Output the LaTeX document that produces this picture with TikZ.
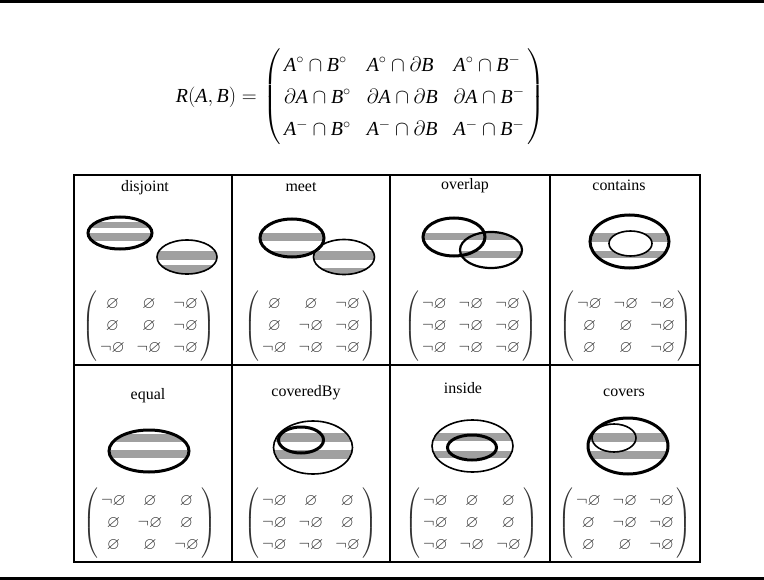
\documentclass[tikz,border=0pt]{standalone}
\usepackage{fontspec}
\usepackage{amssymb}
\setmainfont{Liberation Serif}
\usetikzlibrary{positioning}
\definecolor{bandgray}{HTML}{A0A0A0}
\definecolor{entrygrey}{HTML}{333333}

\newcommand{\sA}{\mathit{A}}
\newcommand{\sB}{\mathit{B}}
\newcommand{\eset}{\varnothing}
\newcommand{\neset}{\neg\varnothing}
% 3x3 intersection matrix, one argument per row
\newcommand{\imat}[3]{$\left(\begin{array}{@{\,}c@{\hspace{12pt}}c@{\hspace{12pt}}c@{\,}}#1\\#2\\#3\end{array}\right)$}
% grey bands clipped to an ellipse: cx, cy, rx, ry, list of y1/y2
\newcommand{\bandell}[5]{%
  \begin{scope}
    \clip (#1,#2) ellipse [x radius=#3, y radius=#4];
    \foreach \ya/\yb in {#5}
      \fill[bandgray] (#1-#3,\ya) rectangle (#1+#3,\yb);
  \end{scope}}

\begin{document}
\begin{tikzpicture}[x=1bp, y=-1bp,
    every node/.style={inner sep=0pt},
    ttl/.style={font=\fontsize{16}{18}\selectfont, anchor=base},
    mtx/.style={font=\fontsize{17}{20}\selectfont\def\arraystretch{1.12}, text=entrygrey},
    frm/.style={font=\fontsize{20}{24}\selectfont\def\arraystretch{1.35}},
    ringA/.style={line width=3bp},
    ringB/.style={line width=1.6bp},
    tab/.style={line width=1.8bp},
    hrule/.style={line width=3bp}
  ]
  \useasboundingbox (0,0) rectangle (764,580);

  % ---- rules above and below -------------------------------------------
  \draw[hrule] (0,2) -- (764,2);
  \draw[hrule] (0,578) -- (764,578);

  % ---- 9-intersection matrix ----------------------------------------------
  \node[frm, anchor=east] (rab) at (257,97) {$\mathit{R}(\sA,\sB)=$};
  \node[frm, right=6bp of rab] (rmat)
    {$\left(\begin{array}{@{\,}l@{\hspace{16pt}}l@{\hspace{16pt}}l@{\,}}
      \sA^{\circ}\cap\sB^{\circ} & \sA^{\circ}\cap\partial\sB & \sA^{\circ}\cap\sB^{-}\\
      \partial\sA\cap\sB^{\circ} & \partial\sA\cap\partial\sB & \partial\sA\cap\sB^{-}\\
      \sA^{-}\cap\sB^{\circ} & \sA^{-}\cap\partial\sB & \sA^{-}\cap\sB^{-}
     \end{array}\right)$};

  % ---- table ---------------------------------------------------------------
  \draw[tab] (74,175) rectangle (700,562);
  \draw[tab] (74,365) -- (700,365);
  \foreach \xc in {232,390,550}
    \draw[tab] (\xc,175) -- (\xc,562);

  % ---- grey bands ----------------------------------------------------------
  \bandell{120}{233}{32}{16}{222/228,233/241}
  \bandell{187}{257}{30}{17}{251/260,265/274}
  \bandell{292}{238}{32}{19}{233/241,251/258}
  \bandell{344}{257}{30.5}{17.5}{251/260,268/274}
  \bandell{454}{237}{31}{19}{233/240}
  \bandell{491}{250}{31}{18}{233/240,251/258}
  \bandell{629.5}{241.5}{39.5}{26.5}{233/242,251/258}
  \fill[white] (630.5,243.5) ellipse [x radius=21.5, y radius=12.5];
  \bandell{149}{451}{40}{21}{434/442,450/458}
  \bandell{313}{447.5}{39.5}{26.5}{433/442,450/459}
  \bandell{472.5}{446}{40.5}{26}{433/441,451/458}
  \bandell{628}{446}{40}{28}{433/442,451/459}

  % ---- region outlines: A heavy, B light -----------------------------------
  \draw[ringA] (120,233) ellipse [x radius=32, y radius=16];
  \draw[ringB] (187,257) ellipse [x radius=30, y radius=17];
  \draw[ringB] (344,257) ellipse [x radius=30.5, y radius=17.5];
  \draw[ringA] (292,238) ellipse [x radius=32, y radius=19];
  \draw[ringA] (454,237) ellipse [x radius=31, y radius=19];
  \draw[line width=2.2bp] (491,250) ellipse [x radius=31, y radius=18];
  \draw[ringA] (629.5,241.5) ellipse [x radius=39.5, y radius=26.5];
  \draw[ringB] (630.5,243.5) ellipse [x radius=21.5, y radius=12.5];
  \draw[ringA] (149,451) ellipse [x radius=40, y radius=21];
  \draw[ringB] (313,447.5) ellipse [x radius=39.5, y radius=26.5];
  \draw[ringA] (301,440) ellipse [x radius=22.5, y radius=13];
  \draw[ringB] (472.5,446) ellipse [x radius=40.5, y radius=26];
  \draw[ringA] (472,447.5) ellipse [x radius=24.5, y radius=12.5];
  \draw[ringA] (628,446) ellipse [x radius=40, y radius=28];
  \draw[ringB] (614,438) ellipse [x radius=22, y radius=14];

  % ---- relation names ------------------------------------------------------
  \node[ttl] (tdis) at (145,192) {disjoint};
  \node[ttl] (tmeet) at (301,192) {meet};
  \node[ttl] (tovl) at (465,190) {overlap};
  \node[ttl] (tcon) at (619,191) {contains};
  \node[ttl] (tequ) at (148,399) {equal};
  \node[ttl] (tcby) at (306,396) {coveredBy};
  \node[ttl] (tins) at (463,393) {inside};
  \node[ttl] (tcov) at (624,396) {covers};

  % ---- matrices of each relation -------------------------------------------
  \node[mtx] (mdis) at (149,326) {\imat{\eset&\eset&\neset}{\eset&\eset&\neset}{\neset&\neset&\neset}};
  \node[mtx] (mmeet) at (311,326) {\imat{\eset&\eset&\neset}{\eset&\neset&\neset}{\neset&\neset&\neset}};
  \node[mtx] (movl) at (471,326) {\imat{\neset&\neset&\neset}{\neset&\neset&\neset}{\neset&\neset&\neset}};
  \node[mtx] (mcon) at (626,326) {\imat{\neset&\neset&\neset}{\eset&\eset&\neset}{\eset&\eset&\neset}};
  \node[mtx] (mequ) at (150,523) {\imat{\neset&\eset&\eset}{\eset&\neset&\eset}{\eset&\eset&\neset}};
  \node[mtx] (mcby) at (311,523) {\imat{\neset&\eset&\eset}{\neset&\neset&\eset}{\neset&\neset&\neset}};
  \node[mtx] (mins) at (472,523) {\imat{\neset&\eset&\eset}{\neset&\eset&\eset}{\neset&\neset&\neset}};
  \node[mtx] (mcov) at (625,523) {\imat{\neset&\neset&\neset}{\eset&\neset&\neset}{\eset&\eset&\neset}};
\end{tikzpicture}
\end{document}
